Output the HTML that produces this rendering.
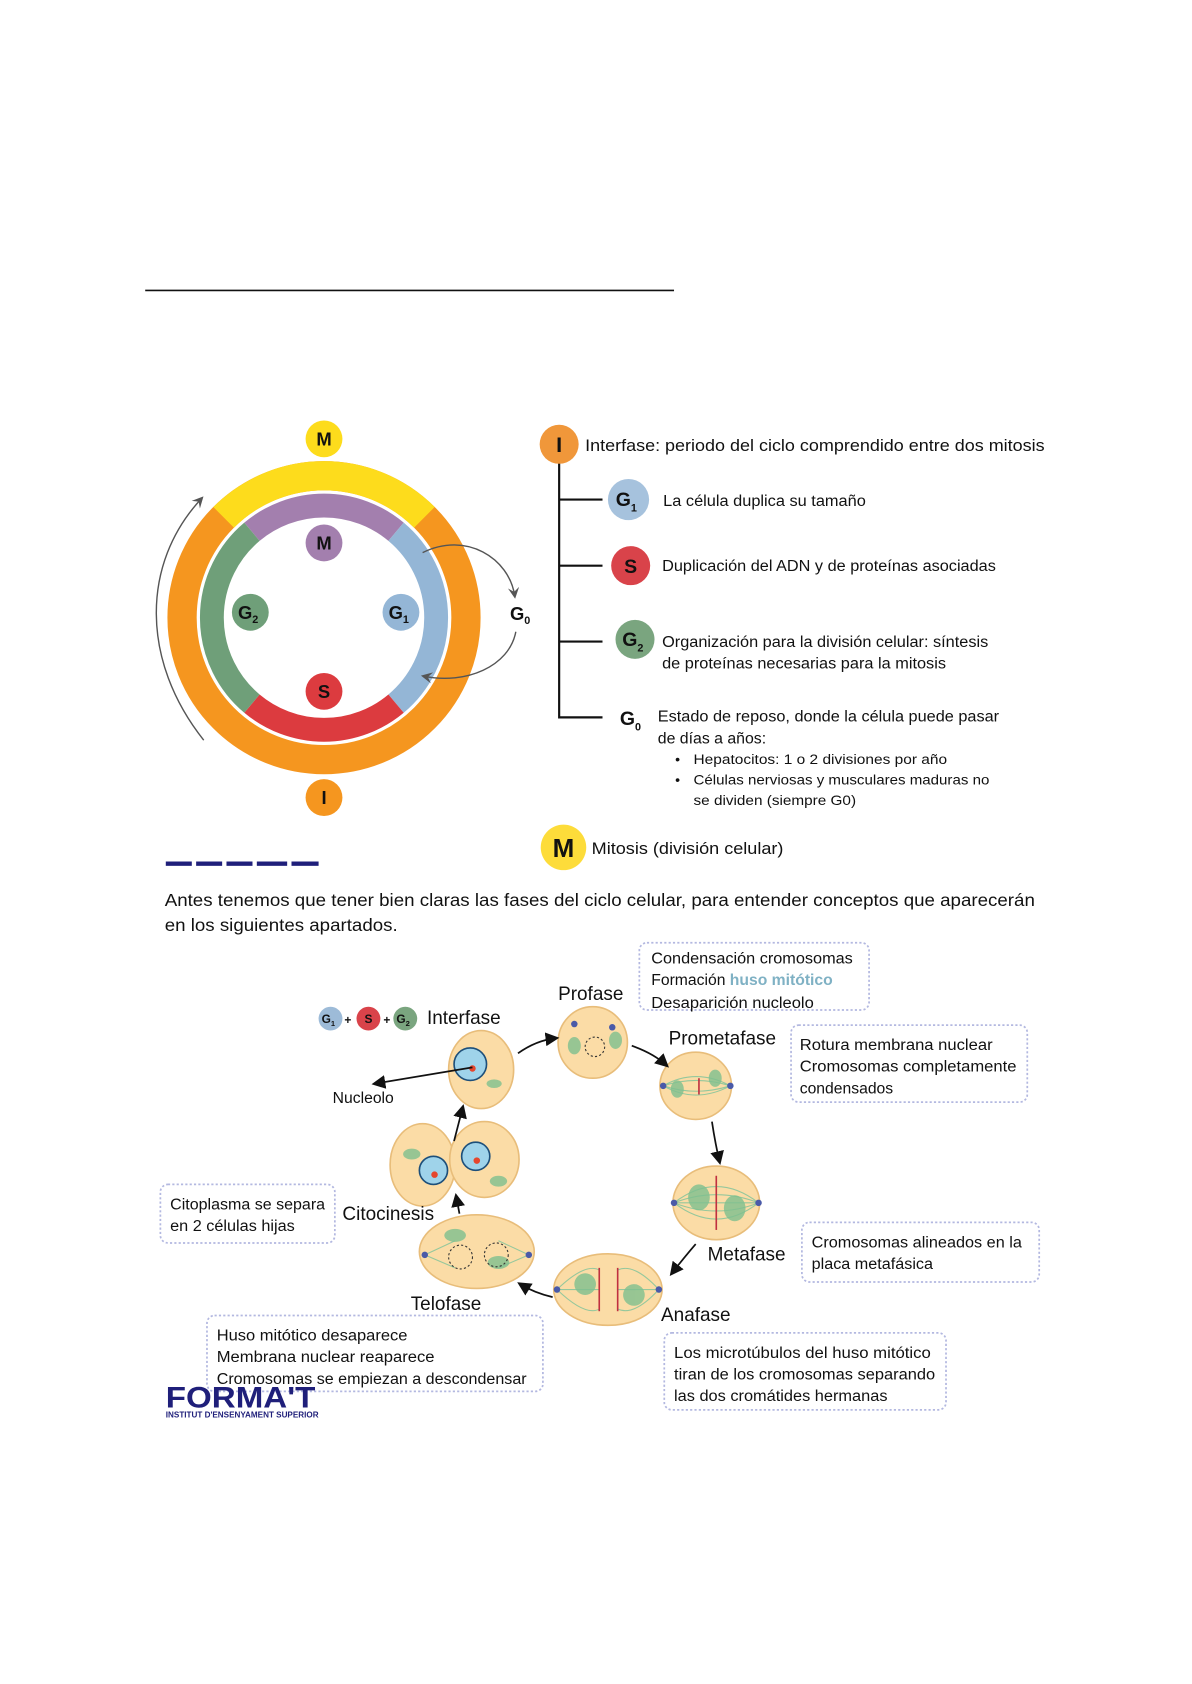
<!DOCTYPE html>
<html><head><meta charset="utf-8"><style>
html,body{margin:0;padding:0;background:#fff}
svg{display:block}
text{font-family:"Liberation Sans",sans-serif;fill:#111}
.b{font-weight:bold}
</style></head><body>
<svg width="1192" height="1684" viewBox="0 0 1100 1554" xmlns="http://www.w3.org/2000/svg">
<defs>
<marker id="ah" markerWidth="8" markerHeight="8" refX="6" refY="4" orient="auto"><path d="M0,0 L8,4 L0,8 z" fill="#111"/></marker>
<marker id="ag" markerWidth="8" markerHeight="8" refX="6" refY="4" orient="auto"><path d="M0,0 L8,4 L0,8 L3,4z" fill="#555"/></marker>
</defs>
<line x1="134" y1="268" x2="622" y2="268" stroke="#111" stroke-width="1.5"/>

<circle cx="299" cy="570" r="131" fill="none" stroke="#f5961f" stroke-width="27"/>
<path d="M206.4,477.4 A131,131 0 0 1 391.6,477.4" fill="none" stroke="#fddc1c" stroke-width="27"/>
<g fill="none" stroke-width="22">
<path d="M232.5,490.7 A103.5,103.5 0 0 1 365.5,490.7" stroke="#a37fae"/>
<path d="M365.5,490.7 A103.5,103.5 0 0 1 365.5,649.3" stroke="#94b6d6"/>
<path d="M365.5,649.3 A103.5,103.5 0 0 1 232.5,649.3" stroke="#dc3b3f"/>
<path d="M232.5,649.3 A103.5,103.5 0 0 1 232.5,490.7" stroke="#6f9f79"/>
</g>
<g class="b" font-size="17" text-anchor="middle">
<circle cx="299" cy="405" r="17" fill="#fddc1c"/><text x="299" y="411" class="b">M</text>
<circle cx="299" cy="736" r="17" fill="#f5961f"/><text x="299" y="742" class="b">I</text>
<circle cx="299" cy="501" r="17" fill="#a37fae"/><text x="299" y="507" class="b">M</text>
<circle cx="231" cy="565" r="17" fill="#6f9f79"/><text x="229" y="571" class="b">G<tspan font-size="10" dy="4">2</tspan></text>
<circle cx="370" cy="565" r="17" fill="#94b6d6"/><text x="368" y="571" class="b">G<tspan font-size="10" dy="4">1</tspan></text>
<circle cx="299" cy="638" r="17" fill="#dc3b3f"/><text x="299" y="644" class="b">S</text>
<text x="480" y="572" class="b">G<tspan font-size="10" dy="4">0</tspan></text>
</g>
<path d="M390,510 C430,490 470,515 475,550" fill="none" stroke="#555" stroke-width="1.3" marker-end="url(#ag)"/>
<path d="M476,583 C470,615 430,632 391,624" fill="none" stroke="#555" stroke-width="1.3" marker-end="url(#ag)"/>
<path d="M188,683 C130,610 130,520 186,460" fill="none" stroke="#555" stroke-width="1.3" marker-end="url(#ag)"/>

<path d="M516,425 V662 H556 M516,461 H556 M516,522 H556 M516,592 H556" fill="none" stroke="#111" stroke-width="2"/>
<circle cx="516" cy="410" r="18" fill="#f0973a"/><text x="516" y="417" font-size="20" class="b" text-anchor="middle">I</text>
<text x="540" y="416" font-size="15.5" textLength="424" lengthAdjust="spacingAndGlyphs">Interfase: periodo del ciclo comprendido entre dos mitosis</text>
<circle cx="580" cy="461" r="19" fill="#a6c2dd"/><text x="578" y="467" font-size="18" class="b" text-anchor="middle">G<tspan font-size="10" dy="5">1</tspan></text>
<text x="612" y="467" font-size="14.5" textLength="187" lengthAdjust="spacingAndGlyphs">La célula duplica su tamaño</text>
<circle cx="582" cy="522" r="18" fill="#d9434a"/><text x="582" y="529" font-size="18" class="b" text-anchor="middle">S</text>
<text x="611" y="527" font-size="14.5" textLength="308" lengthAdjust="spacingAndGlyphs">Duplicación del ADN y de proteínas asociadas</text>
<circle cx="586" cy="590" r="18" fill="#7aa57f"/><text x="584" y="596" font-size="18" class="b" text-anchor="middle">G<tspan font-size="10" dy="5">2</tspan></text>
<text x="611" y="597" font-size="14.5" textLength="301" lengthAdjust="spacingAndGlyphs">Organización para la división celular: síntesis</text>
<text x="611" y="617" font-size="14.5" textLength="262" lengthAdjust="spacingAndGlyphs">de proteínas necesarias para la mitosis</text>
<text x="572" y="669" font-size="18" class="b">G<tspan font-size="10" dy="5">0</tspan></text>
<text x="607" y="666" font-size="14.5" textLength="315" lengthAdjust="spacingAndGlyphs">Estado de reposo, donde la célula puede pasar</text>
<text x="607" y="686" font-size="14.5" textLength="100" lengthAdjust="spacingAndGlyphs">de días a años:</text>
<text x="623" y="705" font-size="13">•</text><text x="640" y="705" font-size="13" textLength="234" lengthAdjust="spacingAndGlyphs">Hepatocitos: 1 o 2 divisiones por año</text>
<text x="623" y="724" font-size="13">•</text><text x="640" y="724" font-size="13" textLength="273" lengthAdjust="spacingAndGlyphs">Células nerviosas y musculares maduras no</text>
<text x="640" y="743" font-size="13" textLength="150" lengthAdjust="spacingAndGlyphs">se dividen (siempre G0)</text>
<circle cx="520" cy="782" r="21" fill="#fddc3a"/><text x="520" y="791" font-size="24" class="b" text-anchor="middle">M</text>
<text x="546" y="788" font-size="15.5" textLength="177" lengthAdjust="spacingAndGlyphs">Mitosis (división celular)</text>
<g fill="#1f1f7a"><rect x="153" y="795" width="24" height="4"/><rect x="181" y="795" width="24" height="4"/><rect x="209" y="795" width="24" height="4"/><rect x="237" y="795" width="28" height="4"/><rect x="269" y="795" width="25" height="4"/></g>

<text x="152" y="836" font-size="16" textLength="803" lengthAdjust="spacingAndGlyphs">Antes tenemos que tener bien claras las fases del ciclo celular, para entender conceptos que aparecerán</text>
<text x="152" y="859" font-size="16" textLength="215" lengthAdjust="spacingAndGlyphs">en los siguientes apartados.</text>

<g fill="#fbdca6" stroke="#e8bd7a" stroke-width="1.5">
<ellipse cx="444" cy="987" rx="30" ry="36"/>
<ellipse cx="547" cy="962" rx="32" ry="33"/>
<ellipse cx="642" cy="1002" rx="33" ry="31"/>
<ellipse cx="661" cy="1110" rx="40" ry="34"/>
<ellipse cx="561" cy="1190" rx="50" ry="33"/>
<ellipse cx="440" cy="1155" rx="53" ry="34"/>
<ellipse cx="390" cy="1075" rx="30" ry="38"/>
<ellipse cx="447" cy="1070" rx="32" ry="35"/>
</g>
<g fill="none" stroke="#7cc39a" stroke-width="1" opacity=".8">
<path d="M612,1002 Q642,985 674,1002 M612,1002 Q642,1019 674,1002 M612,1002 Q642,992 674,1002 M612,1002 Q642,1012 674,1002"/>
<path d="M622,1110 Q661,1080 700,1110 M622,1110 Q661,1140 700,1110 M622,1110 Q661,1095 700,1110 M622,1110 Q661,1125 700,1110 M622,1110 L700,1110"/>
<path d="M514,1190 Q540,1165 553,1172 M514,1190 Q540,1215 553,1208 M514,1190 L553,1190 M608,1190 Q585,1165 570,1172 M608,1190 Q585,1215 570,1208 M608,1190 L570,1190"/>
<path d="M392,1158 L420,1145 M392,1158 L420,1170 M488,1158 L460,1145 M488,1158 L460,1170"/>
</g>
<g fill="#9fd3ea" stroke="#1d4f7a" stroke-width="1.5">
<circle cx="434" cy="982" r="15"/><circle cx="400" cy="1080" r="13"/><circle cx="439" cy="1067" r="13"/>
</g>
<g fill="#e5462d"><circle cx="436" cy="986" r="3"/><circle cx="401" cy="1084" r="3"/><circle cx="440" cy="1071" r="3"/></g>
<g fill="#7fc08f" opacity=".8">
<ellipse cx="456" cy="1000" rx="7" ry="4"/><ellipse cx="530" cy="965" rx="6" ry="8"/><ellipse cx="568" cy="960" rx="6" ry="8"/>
<ellipse cx="625" cy="1005" rx="6" ry="8"/><ellipse cx="660" cy="995" rx="6" ry="8"/>
<ellipse cx="645" cy="1105" rx="10" ry="12"/><ellipse cx="678" cy="1115" rx="10" ry="12"/>
<ellipse cx="540" cy="1185" rx="10" ry="10"/><ellipse cx="585" cy="1195" rx="10" ry="10"/>
<ellipse cx="420" cy="1140" rx="10" ry="6"/><ellipse cx="460" cy="1165" rx="10" ry="6"/>
<ellipse cx="380" cy="1065" rx="8" ry="5"/><ellipse cx="460" cy="1090" rx="8" ry="5"/>
</g>
<g fill="#4a5aa8"><circle cx="612" cy="1002" r="3"/><circle cx="674" cy="1002" r="3"/><circle cx="622" cy="1110" r="3"/><circle cx="700" cy="1110" r="3"/><circle cx="514" cy="1190" r="3"/><circle cx="608" cy="1190" r="3"/><circle cx="392" cy="1158" r="3"/><circle cx="488" cy="1158" r="3"/><circle cx="530" cy="945" r="3"/><circle cx="565" cy="948" r="3"/></g>
<g stroke="#c03040" stroke-width="1.5"><line x1="661" y1="1085" x2="661" y2="1135"/><line x1="645" y1="995" x2="645" y2="1010"/><line x1="553" y1="1170" x2="553" y2="1210"/><line x1="570" y1="1170" x2="570" y2="1210"/></g>
<g fill="none" stroke="#333" stroke-dasharray="2,2"><circle cx="549" cy="966" r="9"/><circle cx="425" cy="1160" r="11"/><circle cx="458" cy="1158" r="11"/></g>

<g fill="none" stroke="#111" stroke-width="1.6" marker-end="url(#ah)">
<path d="M478,972 Q495,960 513,958"/>
<path d="M583,965 Q603,972 615,983"/>
<path d="M657,1035 Q660,1055 664,1072"/>
<path d="M642,1148 Q630,1162 620,1175"/>
<path d="M510,1197 Q493,1193 480,1185"/>
<path d="M424,1120 L421,1104"/>
<path d="M419,1053 L427,1022"/>
<path d="M436,985 L346,1000"/>
</g>

<g font-size="17.5" fill="#222">
<text x="515" y="923">Profase</text>
<text x="394" y="945">Interfase</text>
<text x="617" y="964">Prometafase</text>
<text x="316" y="1126">Citocinesis</text>
<text x="653" y="1163">Metafase</text>
<text x="379" y="1209">Telofase</text>
<text x="610" y="1219">Anafase</text>
</g>
<text x="307" y="1018" font-size="14.5">Nucleolo</text>
<g font-size="11" class="b" text-anchor="middle">
<circle cx="305" cy="940" r="11" fill="#9dbbd8"/><text x="303" y="944" class="b">G<tspan font-size="7" dy="3">1</tspan></text>
<text x="321" y="945">+</text>
<circle cx="340" cy="940" r="11" fill="#d9434a"/><text x="340" y="944" class="b">S</text>
<text x="357" y="945">+</text>
<circle cx="374" cy="940" r="11" fill="#7aa57f"/><text x="372" y="944" class="b">G<tspan font-size="7" dy="3">2</tspan></text>
</g>

<g fill="none" stroke="#b3b8e0" stroke-width="1.6" stroke-dasharray="2,2">
<rect x="590" y="870" width="212" height="62" rx="7"/>
<rect x="730" y="946" width="218" height="71" rx="7"/>
<rect x="148" y="1093" width="161" height="54" rx="7"/>
<rect x="740" y="1128" width="219" height="55" rx="7"/>
<rect x="191" y="1214" width="310" height="70" rx="7"/>
<rect x="613" y="1230" width="260" height="71" rx="7"/>
</g>
<g font-size="14.5">
<text x="601" y="889" textLength="186" lengthAdjust="spacingAndGlyphs">Condensación cromosomas</text>
<text x="601" y="909">Formación <tspan fill="#7fb1c4" class="b" font-weight="normal">huso mitótico</tspan></text>
<text x="601" y="930" textLength="150" lengthAdjust="spacingAndGlyphs">Desaparición nucleolo</text>
<text x="738" y="969" textLength="178" lengthAdjust="spacingAndGlyphs">Rotura membrana nuclear</text>
<text x="738" y="989" textLength="200" lengthAdjust="spacingAndGlyphs">Cromosomas completamente</text>
<text x="738" y="1009">condensados</text>
<text x="157" y="1116" textLength="143" lengthAdjust="spacingAndGlyphs">Citoplasma se separa</text>
<text x="157" y="1136" textLength="115" lengthAdjust="spacingAndGlyphs">en 2 células hijas</text>
<text x="749" y="1151" textLength="194" lengthAdjust="spacingAndGlyphs">Cromosomas alineados en la</text>
<text x="749" y="1171" textLength="112" lengthAdjust="spacingAndGlyphs">placa metafásica</text>
<text x="200" y="1237" textLength="176" lengthAdjust="spacingAndGlyphs">Huso mitótico desaparece</text>
<text x="200" y="1257" textLength="201" lengthAdjust="spacingAndGlyphs">Membrana nuclear reaparece</text>
<text x="200" y="1277" textLength="286" lengthAdjust="spacingAndGlyphs">Cromosomas se empiezan a descondensar</text>
<text x="622" y="1253" textLength="237" lengthAdjust="spacingAndGlyphs">Los microtúbulos del huso mitótico</text>
<text x="622" y="1273" textLength="241" lengthAdjust="spacingAndGlyphs">tiran de los cromosomas separando</text>
<text x="622" y="1293" textLength="197" lengthAdjust="spacingAndGlyphs">las dos cromátides hermanas</text>
</g>
<text x="153" y="1299" font-size="27" class="b" style="fill:#1f1f7a" textLength="138" lengthAdjust="spacingAndGlyphs">FORMA'T</text>
<text x="153" y="1308" font-size="8" class="b" style="fill:#1f1f7a" textLength="141" lengthAdjust="spacingAndGlyphs">INSTITUT D'ENSENYAMENT SUPERIOR</text>
</svg>
</body></html>
